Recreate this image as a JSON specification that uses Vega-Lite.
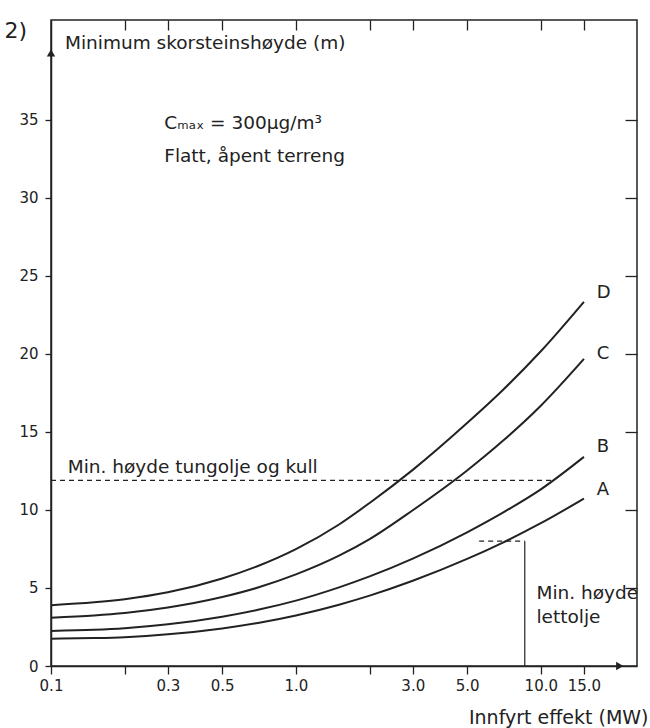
{
  "$schema": "https://vega.github.io/schema/vega-lite/v6.json",
  "width": 586,
  "height": 646,
  "autosize": {"type": "none"},
  "padding": {"left": 51, "top": 20, "right": 13, "bottom": 62},
  "background": "white",
  "config": {
    "view": {"stroke": "#222", "strokeWidth": 1.5},
    "font": "DejaVu Sans",
    "axis": {
      "domainColor": "#222", "domainWidth": 1.5, "tickColor": "#222", "tickWidth": 1.3,
      "labelColor": "#222", "labelFont": "DejaVu Sans", "labelFontSize": 15,
      "titleFont": "DejaVu Sans", "titleColor": "#222", "titleFontWeight": "normal", "grid": false
    },
    "text": {"font": "DejaVu Sans", "color": "#222"}
  },
  "datasets": {
    "curves": [
      {"curve": "D", "Q": 0.1, "H": 3.9}, {"curve": "D", "Q": 0.15, "H": 4.08}, {"curve": "D", "Q": 0.2, "H": 4.28},
      {"curve": "D", "Q": 0.3, "H": 4.72}, {"curve": "D", "Q": 0.5, "H": 5.61}, {"curve": "D", "Q": 0.7, "H": 6.41},
      {"curve": "D", "Q": 1.0, "H": 7.49}, {"curve": "D", "Q": 1.5, "H": 9.07}, {"curve": "D", "Q": 2.0, "H": 10.45},
      {"curve": "D", "Q": 3.0, "H": 12.57}, {"curve": "D", "Q": 5.0, "H": 15.57}, {"curve": "D", "Q": 7.0, "H": 17.69},
      {"curve": "D", "Q": 10.0, "H": 20.17}, {"curve": "D", "Q": 15.0, "H": 23.34},
      {"curve": "C", "Q": 0.1, "H": 3.1}, {"curve": "C", "Q": 0.15, "H": 3.24}, {"curve": "C", "Q": 0.2, "H": 3.4},
      {"curve": "C", "Q": 0.3, "H": 3.75}, {"curve": "C", "Q": 0.5, "H": 4.42}, {"curve": "C", "Q": 0.7, "H": 5.03},
      {"curve": "C", "Q": 1.0, "H": 5.87}, {"curve": "C", "Q": 1.5, "H": 7.07}, {"curve": "C", "Q": 2.0, "H": 8.13},
      {"curve": "C", "Q": 3.0, "H": 9.98}, {"curve": "C", "Q": 5.0, "H": 12.53}, {"curve": "C", "Q": 7.0, "H": 14.43},
      {"curve": "C", "Q": 10.0, "H": 16.68}, {"curve": "C", "Q": 15.0, "H": 19.68},
      {"curve": "B", "Q": 0.1, "H": 2.25}, {"curve": "B", "Q": 0.15, "H": 2.32}, {"curve": "B", "Q": 0.2, "H": 2.42},
      {"curve": "B", "Q": 0.3, "H": 2.67}, {"curve": "B", "Q": 0.5, "H": 3.16}, {"curve": "B", "Q": 0.7, "H": 3.6},
      {"curve": "B", "Q": 1.0, "H": 4.19}, {"curve": "B", "Q": 1.5, "H": 5.04}, {"curve": "B", "Q": 2.0, "H": 5.74},
      {"curve": "B", "Q": 3.0, "H": 6.88}, {"curve": "B", "Q": 5.0, "H": 8.57}, {"curve": "B", "Q": 7.0, "H": 9.83},
      {"curve": "B", "Q": 10.0, "H": 11.32}, {"curve": "B", "Q": 15.0, "H": 13.4},
      {"curve": "A", "Q": 0.1, "H": 1.75}, {"curve": "A", "Q": 0.15, "H": 1.79}, {"curve": "A", "Q": 0.2, "H": 1.85},
      {"curve": "A", "Q": 0.3, "H": 2.03}, {"curve": "A", "Q": 0.5, "H": 2.41}, {"curve": "A", "Q": 0.7, "H": 2.76},
      {"curve": "A", "Q": 1.0, "H": 3.24}, {"curve": "A", "Q": 1.5, "H": 3.93}, {"curve": "A", "Q": 2.0, "H": 4.51},
      {"curve": "A", "Q": 3.0, "H": 5.46}, {"curve": "A", "Q": 5.0, "H": 6.86}, {"curve": "A", "Q": 7.0, "H": 7.91},
      {"curve": "A", "Q": 10.0, "H": 9.15}, {"curve": "A", "Q": 15.0, "H": 10.73}
    ],
    "curveLabels": [
      {"label": "D", "Q": 16.9, "H": 23.9},
      {"label": "C", "Q": 16.9, "H": 20.0},
      {"label": "B", "Q": 16.9, "H": 14.06},
      {"label": "A", "Q": 16.9, "H": 11.3}
    ],
    "dashed": [
      {"Q1": 0.1, "Q2": 11.2, "H": 11.9},
      {"Q1": 5.6, "Q2": 8.6, "H": 8.0}
    ],
    "vertical": [
      {"Q": 8.6, "H1": 0, "H2": 8.0}
    ],
    "notes": [
      {"text": "Minimum skorsteinshøyde (m)", "Q": 0.114, "H": 39.9},
      {"text": "Cₘₐₓ = 300µg/m³", "Q": 0.29, "H": 34.8},
      {"text": "Flatt, åpent terreng", "Q": 0.29, "H": 32.7},
      {"text": "Min. høyde tungolje og kull", "Q": 0.117, "H": 12.75},
      {"text": "Min. høyde", "Q": 9.6, "H": 4.7},
      {"text": "lettolje", "Q": 9.6, "H": 3.15}
    ],
    "xArrow": [{"Q": 21, "H": 0}],
    "yArrow": [{"Q": 0.1, "H": 39.3}]
  },
  "layer": [
    {
      "data": {"name": "curves"},
      "mark": {"type": "line", "interpolate": "monotone", "color": "#222", "strokeWidth": 2},
      "encoding": {
        "x": {
          "field": "Q", "type": "quantitative",
          "scale": {"type": "log", "domain": [0.1, 24.7], "nice": false, "zero": false},
          "axis": {
            "orient": "bottom",
            "values": [0.1, 0.2, 0.3, 0.5, 1, 2, 3, 5, 10, 15],
            "labelExpr": "datum.value == 0.2 || datum.value == 2 ? '' : format(datum.value, '.1f')",
            "tickSize": 8, "labelPadding": 4, "labelFlush": false, "labelOverlap": false,
            "title": "Innfyrt effekt (MW)", "titleFontSize": 19, "titleAlign": "right",
            "titleAnchor": "end", "titleX": 597, "titleY": 51, "titleBaseline": "middle"
          }
        },
        "y": {
          "field": "H", "type": "quantitative",
          "scale": {"domain": [0, 41.4], "nice": false, "zero": false},
          "axis": {
            "orient": "left",
            "values": [0, 5, 10, 15, 20, 25, 30, 35],
            "tickSize": 6, "labelPadding": 7,
            "title": "2)", "titleAngle": 0, "titleFontSize": 22, "titleAlign": "left",
            "titleBaseline": "middle", "titleX": -47, "titleY": 10
          }
        },
        "detail": {"field": "curve"}
      }
    },
    {
      "data": {"name": "dashed"},
      "mark": {"type": "rule", "color": "#222", "strokeWidth": 1.2, "strokeDash": [5, 4]},
      "encoding": {
        "x": {
          "field": "Q1", "type": "quantitative",
          "scale": {"type": "log", "domain": [0.1, 24.7], "nice": false, "zero": false},
          "axis": {
            "orient": "top", "values": [0.2, 0.3, 0.5, 1, 2, 3, 5, 10, 15],
            "labels": false, "domain": false, "tickSize": -10, "title": null
          }
        },
        "x2": {"field": "Q2"},
        "y": {
          "field": "H", "type": "quantitative",
          "scale": {"domain": [0, 41.4], "nice": false, "zero": false},
          "axis": {
            "orient": "right", "values": [5, 10, 15, 20, 25, 30, 35],
            "labels": false, "domain": false, "tickSize": -12, "title": null
          }
        }
      }
    },
    {
      "data": {"name": "vertical"},
      "mark": {"type": "rule", "color": "#222", "strokeWidth": 1.2},
      "encoding": {
        "x": {"field": "Q", "type": "quantitative", "scale": {"type": "log", "domain": [0.1, 24.7], "nice": false, "zero": false}, "axis": null},
        "y": {"field": "H1", "type": "quantitative", "scale": {"domain": [0, 41.4], "nice": false, "zero": false}, "axis": null},
        "y2": {"field": "H2"}
      }
    },
    {
      "data": {"name": "curveLabels"},
      "mark": {"type": "text", "align": "left", "baseline": "middle", "fontSize": 18},
      "encoding": {
        "x": {"field": "Q", "type": "quantitative", "scale": {"type": "log", "domain": [0.1, 24.7], "nice": false, "zero": false}, "axis": null},
        "y": {"field": "H", "type": "quantitative", "scale": {"domain": [0, 41.4], "nice": false, "zero": false}, "axis": null},
        "text": {"field": "label"}
      }
    },
    {
      "data": {"name": "notes"},
      "mark": {"type": "text", "align": "left", "baseline": "middle", "fontSize": 18.5},
      "encoding": {
        "x": {"field": "Q", "type": "quantitative", "scale": {"type": "log", "domain": [0.1, 24.7], "nice": false, "zero": false}, "axis": null},
        "y": {"field": "H", "type": "quantitative", "scale": {"domain": [0, 41.4], "nice": false, "zero": false}, "axis": null},
        "text": {"field": "text"}
      }
    },
    {
      "data": {"name": "xArrow"},
      "mark": {"type": "point", "shape": "triangle-right", "filled": true, "color": "#222", "size": 70, "opacity": 1},
      "encoding": {
        "x": {"field": "Q", "type": "quantitative", "scale": {"type": "log", "domain": [0.1, 24.7], "nice": false, "zero": false}, "axis": null},
        "y": {"field": "H", "type": "quantitative", "scale": {"domain": [0, 41.4], "nice": false, "zero": false}, "axis": null}
      }
    },
    {
      "data": {"name": "yArrow"},
      "mark": {"type": "point", "shape": "triangle-up", "filled": true, "color": "#222", "size": 70, "opacity": 1},
      "encoding": {
        "x": {"field": "Q", "type": "quantitative", "scale": {"type": "log", "domain": [0.1, 24.7], "nice": false, "zero": false}, "axis": null},
        "y": {"field": "H", "type": "quantitative", "scale": {"domain": [0, 41.4], "nice": false, "zero": false}, "axis": null}
      }
    }
  ],
  "resolve": {"axis": {"x": "independent", "y": "independent"}}
}
